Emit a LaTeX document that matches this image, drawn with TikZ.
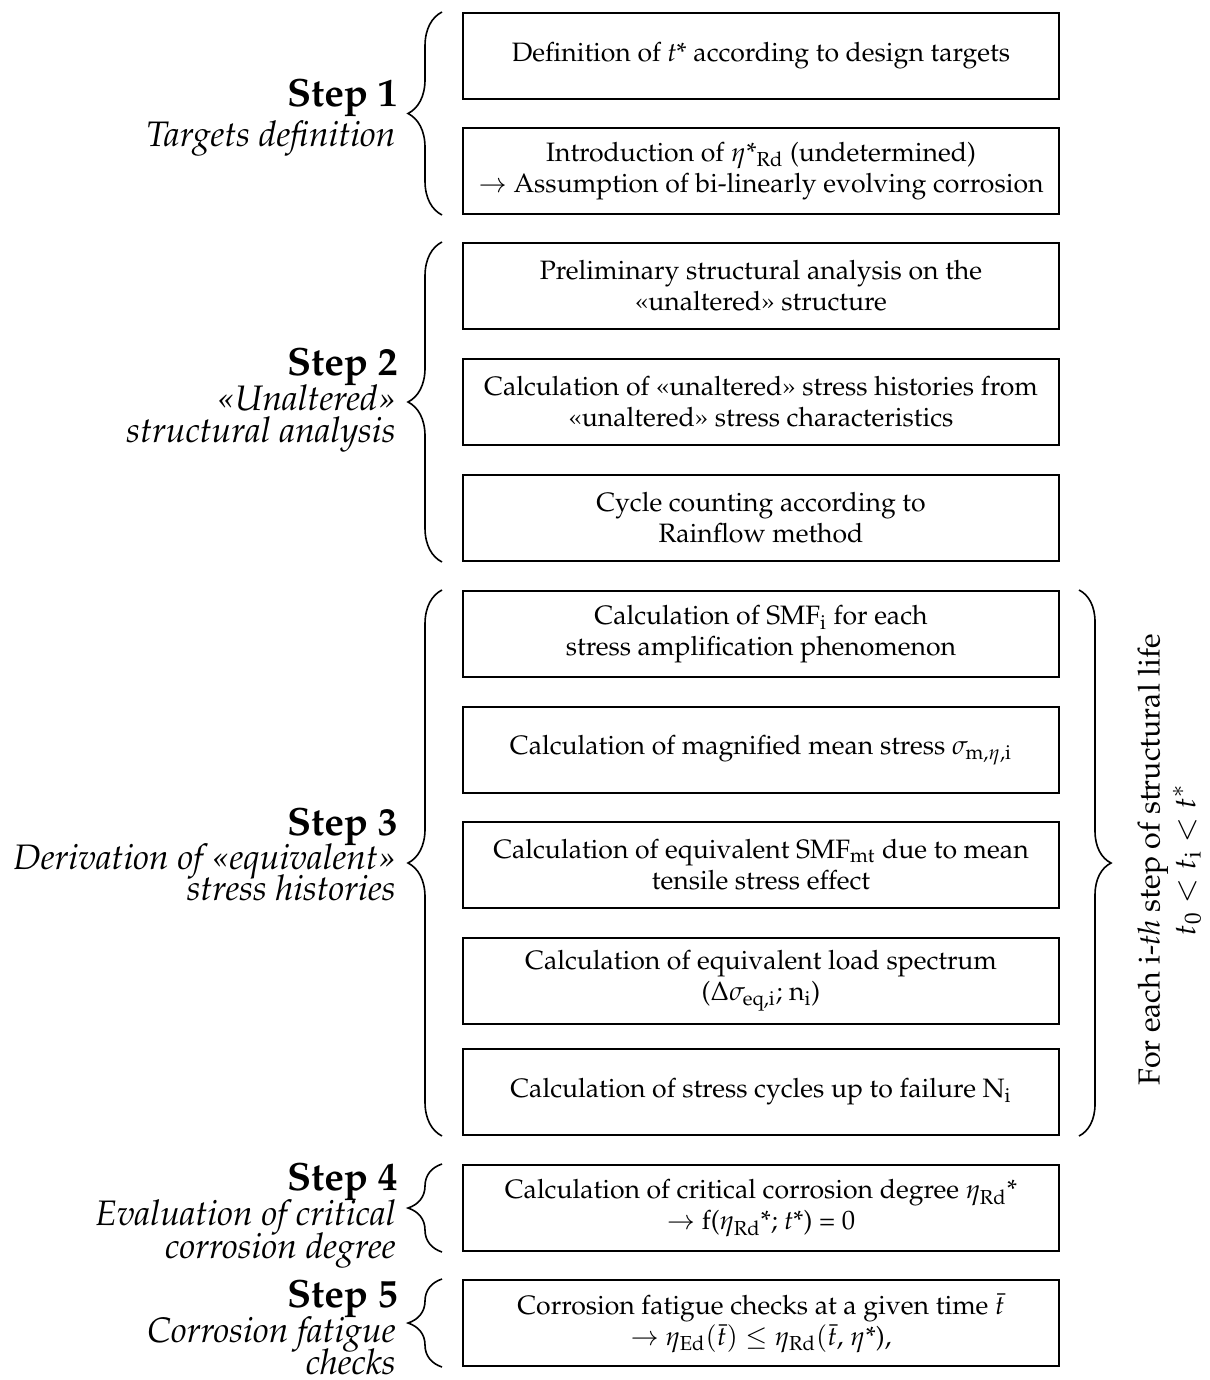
\documentclass[tikz,border=0pt]{standalone}
\usepackage[T1]{fontenc}
\usepackage{mathpazo}
\usetikzlibrary{decorations.pathreplacing}

\begin{document}
\begin{tikzpicture}[x=0.5pt,y=-0.5pt,
        box/.style={draw,line width=1pt,minimum width=298pt,minimum height=43pt,inner sep=0pt,align=center,font=\fontsize{13.3}{15.5}\selectfont},
        stitle/.style={anchor=base east,inner sep=0pt,font=\fontsize{19.7}{20}\selectfont\bfseries},
        sdesc/.style={anchor=base east,inner sep=0pt,font=\fontsize{17.7}{18}\selectfont\itshape},
        sbrace/.style={line width=0.8pt,decorate,decoration={brace,amplitude=17pt}}]
        \useasboundingbox (0,0) rectangle (1209,1380);
        % boxes
        \node[box] (b1) at (761,56) {Definition of \textit{t}* according to design targets};
        \node[box] (b2) at (761,171) {Introduction of $\eta$*\textsubscript{Rd} (undetermined)\\$\rightarrow$ Assumption of bi-linearly evolving corrosion};
        \node[box] (b3) at (761,286) {Preliminary structural analysis on the\\\guillemotleft unaltered\guillemotright{} structure};
        \node[box] (b4) at (761,402) {Calculation of \guillemotleft unaltered\guillemotright{} stress histories from\\\guillemotleft unaltered\guillemotright{} stress characteristics};
        \node[box] (b5) at (761,518) {Cycle counting according to\\Rainflow method};
        \node[box] (b6) at (761,634) {Calculation of SMF\textsubscript{i} for each\\stress amplification phenomenon};
        \node[box] (b7) at (761,750) {Calculation of magnified mean stress $\sigma_{\mathrm{m},\eta,\mathrm{i}}$};
        \node[box] (b8) at (761,865) {Calculation of equivalent SMF\textsubscript{mt} due to mean\\tensile stress effect};
        \node[box] (b9) at (761,981) {Calculation of equivalent load spectrum\\($\Delta\sigma_{\mathrm{eq,i}}$; n\textsubscript{i})};
        \node[box] (b10) at (761,1092) {Calculation of stress cycles up to failure N\textsubscript{i}};
        \node[box] (b11) at (761,1208) {Calculation of critical corrosion degree $\eta_{\mathrm{Rd}}$*\\$\rightarrow$ f($\eta_{\mathrm{Rd}}$*; \textit{t}*) = 0};
        \node[box] (b12) at (761,1323) {Corrosion fatigue checks at a given time $\bar{t}$\\$\rightarrow$ $\eta_{\mathrm{Ed}}(\bar{t})\leq\eta_{\mathrm{Rd}}(\bar{t}$, $\eta$*),};
        % step labels
        \node[stitle] (s1) at (398,107) {Step 1};
        \node[sdesc] (d1) at (396,147) {Targets definition};
        \node[stitle] (s2) at (398,375) {Step 2};
        \node[sdesc] (d2a) at (396,410) {\guillemotleft Unaltered\guillemotright};
        \node[sdesc] (d2b) at (396,442) {structural analysis};
        \node[stitle] (s3) at (398,835) {Step 3};
        \node[sdesc] (d3a) at (396,869) {Derivation of \guillemotleft equivalent\guillemotright};
        \node[sdesc] (d3b) at (396,900) {stress histories};
        \node[stitle] (s4) at (398,1190) {Step 4};
        \node[sdesc] (d4a) at (396,1225) {Evaluation of critical};
        \node[sdesc] (d4b) at (396,1258) {corrosion degree};
        \node[stitle] (s5) at (398,1307) {Step 5};
        \node[sdesc] (d5a) at (396,1342) {Corrosion fatigue};
        \node[sdesc] (d5b) at (396,1374) {checks};
        % braces
        \draw[sbrace] ([xshift=-10pt]b2.south west) -- ([xshift=-10pt]b1.north west);
        \draw[sbrace] ([xshift=-10pt]b5.south west) -- ([xshift=-10pt]b3.north west);
        \draw[sbrace] ([xshift=-10pt]b10.south west) -- ([xshift=-10pt]b6.north west);
        \draw[sbrace] ([xshift=-10pt]b11.south west) -- ([xshift=-10pt]b11.north west);
        \draw[sbrace] ([xshift=-10pt]b12.south west) -- ([xshift=-10pt]b12.north west);
        \draw[sbrace,decoration={amplitude=16pt}] ([xshift=9.5pt]b6.north east) -- ([xshift=9.5pt]b10.south east);
        % loop over time steps
        \node[rotate=90,inner sep=0pt,font=\fontsize{15.2}{17}\selectfont] (life) at (1153,860) {For each i-\textit{th} step of structural life};
        \node[rotate=90,inner sep=0pt,font=\fontsize{15.2}{17}\selectfont] (range) at (1187,860) {$t_0<t_{\mathrm{i}}<t^{*}$};
\end{tikzpicture}
\end{document}
